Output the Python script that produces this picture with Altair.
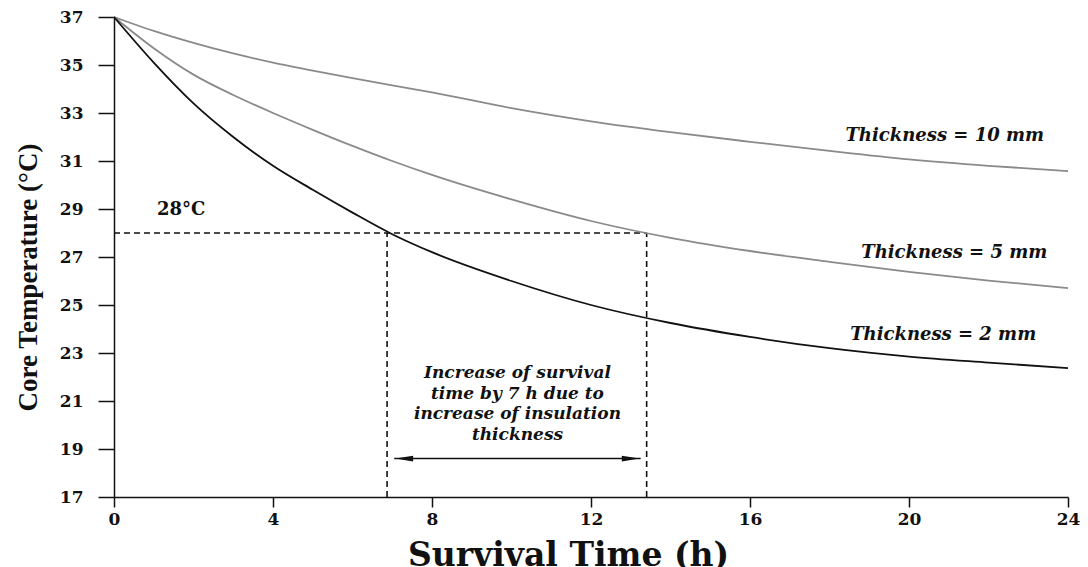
import altair as alt
import pandas as pd

hours = [0, 1, 2, 3, 4, 5, 6, 7, 8, 10, 12, 14, 16, 18, 20, 22, 24]
t_2mm = [37, 35.1, 33.4, 32.0, 30.8, 29.8, 28.85, 27.95, 27.2, 26.0, 25.0, 24.25, 23.67, 23.2, 22.85, 22.6, 22.37]
t_5mm = [37, 35.7, 34.6, 33.75, 33.0, 32.3, 31.63, 31.0, 30.42, 29.4, 28.5, 27.8, 27.25, 26.8, 26.38, 26.02, 25.7]
t_10mm = [37, 36.42, 35.92, 35.48, 35.1, 34.77, 34.45, 34.15, 33.86, 33.2, 32.65, 32.2, 31.8, 31.42, 31.07, 30.8, 30.58]

series_names = ["Thickness = 10 mm", "Thickness = 5 mm", "Thickness = 2 mm"]
series_colors = ["#8a8a8a", "#8a8a8a", "#111111"]

x_ticks = [0, 4, 8, 12, 16, 20, 24]
y_ticks = [17, 19, 21, 23, 25, 27, 29, 31, 33, 35, 37]

t_cross_2mm = 6.87
t_cross_5mm = 13.4
t_limit = 28
arrow_y = 18.6

label_x = [20.9, 21.14, 20.86]
label_y = [32.05, 27.15, 23.75]

rows = []
for name, vals in zip(series_names, [t_10mm, t_5mm, t_2mm]):
    for h, v in zip(hours, vals):
        rows.append({"series": name, "h": h, "t": v})
df = pd.DataFrame(rows)

FONT = "DejaVu Serif"
TFONT = "Liberation Serif"
xs = alt.Scale(domain=[0, 24], nice=False, zero=False)
ys = alt.Scale(domain=[17, 37], nice=False, zero=False)

lines = alt.Chart(df).mark_line(strokeWidth=1.8, interpolate="monotone").encode(
    x=alt.X("h:Q", scale=xs,
            axis=alt.Axis(values=x_ticks, title="Survival Time (h)", grid=False,
                          tickSize=10, labelPadding=4)),
    y=alt.Y("t:Q", scale=ys,
            axis=alt.Axis(values=y_ticks, title="Core Temperature (°C)", grid=False,
                          tickSize=16, labelPadding=15)),
    color=alt.Color("series:N", scale=alt.Scale(domain=series_names, range=series_colors), legend=None),
    detail="series:N",
)

rules_df = pd.DataFrame([
    {"x": 0, "x2": t_cross_5mm, "y": t_limit, "y2": t_limit},
    {"x": t_cross_2mm, "x2": t_cross_2mm, "y": 17, "y2": t_limit},
    {"x": t_cross_5mm, "x2": t_cross_5mm, "y": 17, "y2": t_limit},
])
rules = alt.Chart(rules_df).mark_rule(strokeDash=[6, 4], strokeWidth=1.6, color="#111111").encode(
    x=alt.X("x:Q", scale=xs), x2="x2:Q", y=alt.Y("y:Q", scale=ys), y2="y2:Q"
)

arrow_df = pd.DataFrame([{"x": 7.05, "x2": 13.25, "y": arrow_y}])
arrow = alt.Chart(arrow_df).mark_rule(strokeWidth=1.5, color="#111111").encode(
    x=alt.X("x:Q", scale=xs), x2="x2:Q", y=alt.Y("y:Q", scale=ys)
)
heads_df = pd.DataFrame([
    {"x": 7.3, "y": arrow_y, "dir": "L"},
    {"x": 13.0, "y": arrow_y, "dir": "R"},
])
head_l = alt.Chart(heads_df[heads_df["dir"] == "L"]).mark_point(
    shape="M -1 0 L 1 -0.33 L 1 0.33 Z", filled=True, color="#111111", opacity=1, size=320
).encode(x=alt.X("x:Q", scale=xs), y=alt.Y("y:Q", scale=ys))
head_r = alt.Chart(heads_df[heads_df["dir"] == "R"]).mark_point(
    shape="M 1 0 L -1 -0.33 L -1 0.33 Z", filled=True, color="#111111", opacity=1, size=320
).encode(x=alt.X("x:Q", scale=xs), y=alt.Y("y:Q", scale=ys))

labels_df = pd.DataFrame({"x": label_x, "y": label_y, "text": series_names})
labels = alt.Chart(labels_df).mark_text(
    font=FONT, fontSize=18, fontStyle="italic", fontWeight="bold", color="#111111"
).encode(x=alt.X("x:Q", scale=xs), y=alt.Y("y:Q", scale=ys), text="text:N")

note_df = pd.DataFrame([{"x": 10.15, "y": 37 - (378 - 17) / 24,
                         "text": "Increase of survival\ntime by 7 h due to\nincrease of insulation\nthickness"}])
note = alt.Chart(note_df).mark_text(
    font=FONT, fontSize=17, fontStyle="italic", fontWeight="bold", color="#111111",
    lineBreak="\n", lineHeight=20.7, baseline="alphabetic"
).encode(x=alt.X("x:Q", scale=xs), y=alt.Y("y:Q", scale=ys), text="text:N")

deg_df = pd.DataFrame([{"x": 1.69, "y": 28.75, "text": "28°C"}])
deg = alt.Chart(deg_df).mark_text(
    font=FONT, fontSize=18, fontWeight="bold", color="#111111", baseline="alphabetic"
).encode(x=alt.X("x:Q", scale=xs), y=alt.Y("y:Q", scale=ys), text="text:N")

chart = alt.layer(rules, lines, arrow, head_l, head_r, labels, note, deg).properties(
    width=954, height=480,
    autosize=alt.AutoSizeParams(type="none"),
    padding={"left": 114, "top": 17, "right": 20, "bottom": 70},
).configure_view(stroke=None).configure_axis(
    domainColor="#111111", domainWidth=1.5, tickColor="#111111", tickWidth=1.5,
    labelFont=FONT, labelFontSize=17, labelFontWeight="bold", labelColor="#111111",
    titleFontWeight="bold", titleColor="#111111",
).configure_axisX(
    labelFlush=False, titleFont=FONT, titleFontSize=33,
    titleX=454, titleY=68, titleBaseline="alphabetic", titleAlign="center",
).configure_axisY(
    titleFont=TFONT, titleFontSize=27, titleX=-86, titleY=260,
    titleBaseline="middle", titleAlign="center", titleAngle=270,
)

chart.save("out.html", embed_options={"renderer": "svg", "actions": False})
